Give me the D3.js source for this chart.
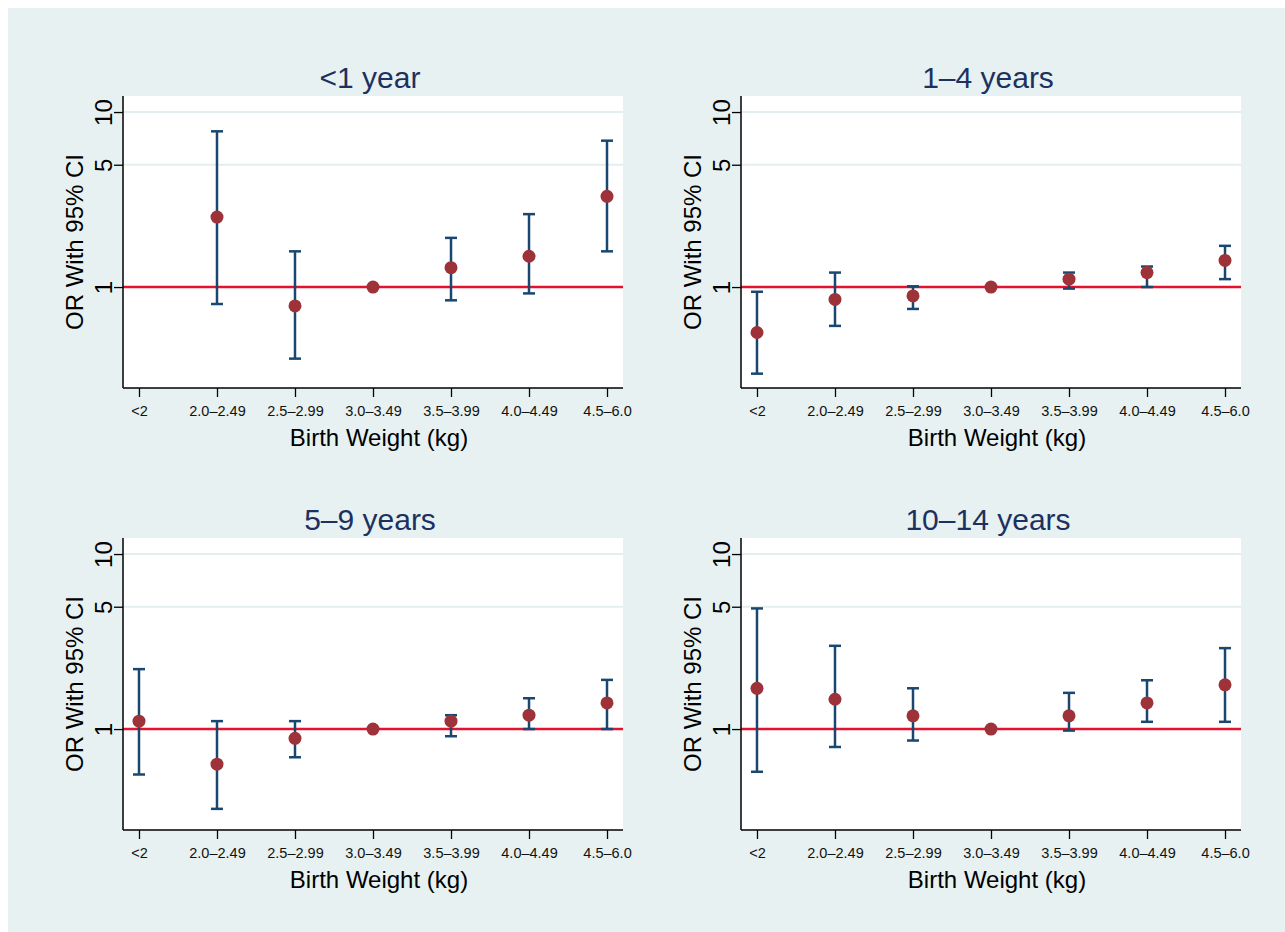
<!DOCTYPE html>
<html>
<head>
<meta charset="utf-8">
<script src="https://cdn.jsdelivr.net/npm/d3@7"></script>
<style>
  html, body { margin: 0; padding: 0; background: #ffffff; }
  svg { display: block; }
  text { font-family: "Liberation Sans", Arial, Helvetica, sans-serif; }
</style>
</head>
<body>
<svg id="chart" width="1285" height="932"></svg>
<script>
// ---- Data ----
const categories = ["<2", "2.0–2.49", "2.5–2.99", "3.0–3.49", "3.5–3.99", "4.0–4.49", "4.5–6.0"];
const panelTitles = ["<1 year", "1–4 years", "5–9 years", "10–14 years"];
const yTickValues = [1, 5, 10];

// <1 year
const or1 = [null, 2.51, 0.78, 1, 1.29, 1.50, 3.30];
const lo1 = [null, 0.80, 0.39, null, 0.84, 0.92, 1.60];
const hi1 = [null, 7.76, 1.60, null, 1.91, 2.61, 6.86];
// 1–4 years
const or2 = [0.55, 0.85, 0.89, 1, 1.11, 1.21, 1.42];
const lo2 = [0.32, 0.60, 0.75, null, 0.98, 1.00, 1.11];
const hi2 = [0.94, 1.21, 1.01, null, 1.21, 1.31, 1.72];
// 5–9 years
const or3 = [1.11, 0.63, 0.885, 1, 1.11, 1.20, 1.41];
const lo3 = [0.55, 0.35, 0.69, null, 0.91, 1.00, 1.00];
const hi3 = [2.20, 1.11, 1.11, null, 1.20, 1.50, 1.91];
// 10–14 years
const or4 = [1.71, 1.48, 1.19, 1, 1.19, 1.41, 1.79];
const lo4 = [0.57, 0.79, 0.86, null, 0.98, 1.10, 1.10];
const hi4 = [4.89, 2.99, 1.71, null, 1.61, 1.90, 2.90];

const panelsData = [
  { title: panelTitles[0], or: or1, lo: lo1, hi: hi1 },
  { title: panelTitles[1], or: or2, lo: lo2, hi: hi2 },
  { title: panelTitles[2], or: or3, lo: lo3, hi: hi3 },
  { title: panelTitles[3], or: or4, lo: lo4, hi: hi4 }
];

// ---- Layout ----
const svg = d3.select("#chart");
const W = 1285, H = 932;
const bg = "#e7f1f2";
const navy = "#1a476f";
const maroon = "#9e3239";
const red = "#e3122f";
const titleColor = "#1c3160";

svg.append("rect").attr("x", 8).attr("y", 8).attr("width", W - 8).attr("height", H - 8).attr("fill", bg);

const plotW = 500, plotH = 292;
const origins = [[123, 96], [741, 96], [123, 538], [741, 538]];

const x = d3.scalePoint().domain(categories).range([0, plotW]).padding(0.205);
const y = d3.scaleLog().domain([0.265, 12.35]).range([plotH, 0]);

panelsData.forEach((p, k) => {
  const [ox, oy] = origins[k];
  const g = svg.append("g").attr("transform", `translate(${ox},${oy})`);

  g.append("rect").attr("x", 0).attr("y", 0).attr("width", plotW).attr("height", plotH).attr("fill", "#ffffff");

  // gridlines
  g.selectAll("line.grid").data([5, 10]).enter().append("line")
    .attr("class", "grid")
    .attr("x1", 0).attr("x2", plotW)
    .attr("y1", d => y(d)).attr("y2", d => y(d))
    .attr("stroke", "#e3eef0").attr("stroke-width", 2);

  // reference line at OR = 1
  g.append("line")
    .attr("x1", 0).attr("x2", plotW)
    .attr("y1", y(1)).attr("y2", y(1))
    .attr("stroke", red).attr("stroke-width", 2.5);

  const rows = categories.map((c, i) => ({ c, or: p.or[i], lo: p.lo[i], hi: p.hi[i] }));
  const ci = rows.filter(d => d.lo != null && d.hi != null);
  const capW = 6;

  const eb = g.selectAll("g.eb").data(ci).enter().append("g").attr("class", "eb")
    .attr("stroke", navy).attr("stroke-width", 2.5);
  eb.append("line")
    .attr("x1", d => x(d.c)).attr("x2", d => x(d.c))
    .attr("y1", d => y(d.lo)).attr("y2", d => y(d.hi));
  eb.append("line")
    .attr("x1", d => x(d.c) - capW).attr("x2", d => x(d.c) + capW)
    .attr("y1", d => y(d.lo)).attr("y2", d => y(d.lo));
  eb.append("line")
    .attr("x1", d => x(d.c) - capW).attr("x2", d => x(d.c) + capW)
    .attr("y1", d => y(d.hi)).attr("y2", d => y(d.hi));

  g.selectAll("circle.pt").data(rows.filter(d => d.or != null)).enter().append("circle")
    .attr("class", "pt")
    .attr("cx", d => x(d.c)).attr("cy", d => y(d.or))
    .attr("r", 6.5).attr("fill", maroon);

  // y axis
  const ya = g.append("g").call(d3.axisLeft(y).tickValues(yTickValues).tickFormat(d3.format("d")).tickSize(9).tickSizeOuter(0));
  ya.attr("font-size", null);
  ya.select(".domain").attr("stroke", "#000").attr("stroke-width", 1.5).attr("d", `M0,0V${plotH}`);
  ya.selectAll(".tick line").attr("stroke", "#000").attr("stroke-width", 1.3);
  ya.selectAll(".tick text")
    .attr("x", null).attr("dy", null)
    .attr("transform", "translate(-11,0) rotate(-90)")
    .attr("text-anchor", "middle")
    .attr("fill", "#000")
    .attr("font-size", 24);

  // x axis
  const xa = g.append("g").attr("transform", `translate(0,${plotH})`)
    .call(d3.axisBottom(x).tickSize(9).tickSizeOuter(0).tickPadding(9));
  xa.attr("font-size", null);
  xa.select(".domain").attr("stroke", "#000").attr("stroke-width", 1.5).attr("d", `M0,0H${plotW}`);
  xa.selectAll(".tick line").attr("stroke", "#000").attr("stroke-width", 1.3);
  xa.selectAll(".tick text").attr("fill", "#111").attr("font-size", 14.5);

  // axis titles
  g.append("text")
    .attr("transform", `translate(-40,${plotH / 2}) rotate(-90)`)
    .attr("text-anchor", "middle")
    .attr("fill", "#000")
    .attr("font-size", 24)
    .text("OR With 95% CI");

  g.append("text")
    .attr("x", plotW / 2 + 6).attr("y", plotH + 58)
    .attr("text-anchor", "middle")
    .attr("fill", "#000")
    .attr("font-size", 24)
    .text("Birth Weight (kg)");

  // panel title
  g.append("text")
    .attr("x", plotW / 2 - 3).attr("y", -8)
    .attr("text-anchor", "middle")
    .attr("fill", titleColor)
    .attr("font-size", 30)
    .text(p.title);
});
</script>
</body>
</html>
